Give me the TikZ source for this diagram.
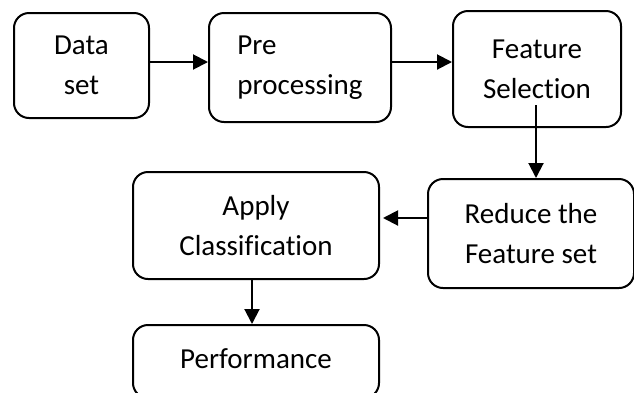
\documentclass[tikz,border=0pt]{standalone}
\usepackage{fontspec}
\setmainfont[Ligatures=NoCommon]{Carlito}
\usetikzlibrary{arrows.meta}
\begin{document}
\begin{tikzpicture}[x=1pt,y=-1pt,
  stage/.style={draw=black, line width=2pt, rounded corners=15pt,
    align=center, inner sep=0pt,
    font=\fontsize{29}{40}\selectfont},
  flow/.style={draw=black, line width=2pt,
    -{Triangle[length=15pt,width=15pt]}}]
\useasboundingbox (0,0) rectangle (634,392);

% process stages
\node[stage, minimum width=135pt, minimum height=105pt] (data) at (81.5,65.5) {Data\\set};
\node[stage, minimum width=182pt, minimum height=109pt, align=left] (pre) at (300,67.5) {Pre\\processing};
\node[stage, minimum width=168pt, minimum height=116pt] (fs) at (537,69) {Feature\\Selection};
\node[stage, minimum width=206pt, minimum height=109pt] (reduce) at (531,233.5) {Reduce the\\Feature set};
\node[stage, minimum width=246pt, minimum height=107pt] (apply) at (256,225.5) {Apply\\Classification};
\node[stage, minimum width=246pt, minimum height=73pt] (perf) at (256,361.5) {\raisebox{6pt}{Performance}};

% connectors
\draw[flow] ([yshift=3.5pt]data.east) -- ([yshift=5.5pt]pre.west);
\draw[flow] ([yshift=5.5pt]pre.east) -- ([yshift=7pt]fs.west);
\draw[flow] ([xshift=-1pt,yshift=-36pt]fs.center) -- ([xshift=5pt]reduce.north);
\draw[flow] ([yshift=15.5pt]reduce.west) -- ([xshift=3pt,yshift=7.5pt]apply.east);
\draw[flow] ([xshift=-4pt]apply.south) -- ([xshift=-4pt]perf.north);
\end{tikzpicture}
\end{document}
